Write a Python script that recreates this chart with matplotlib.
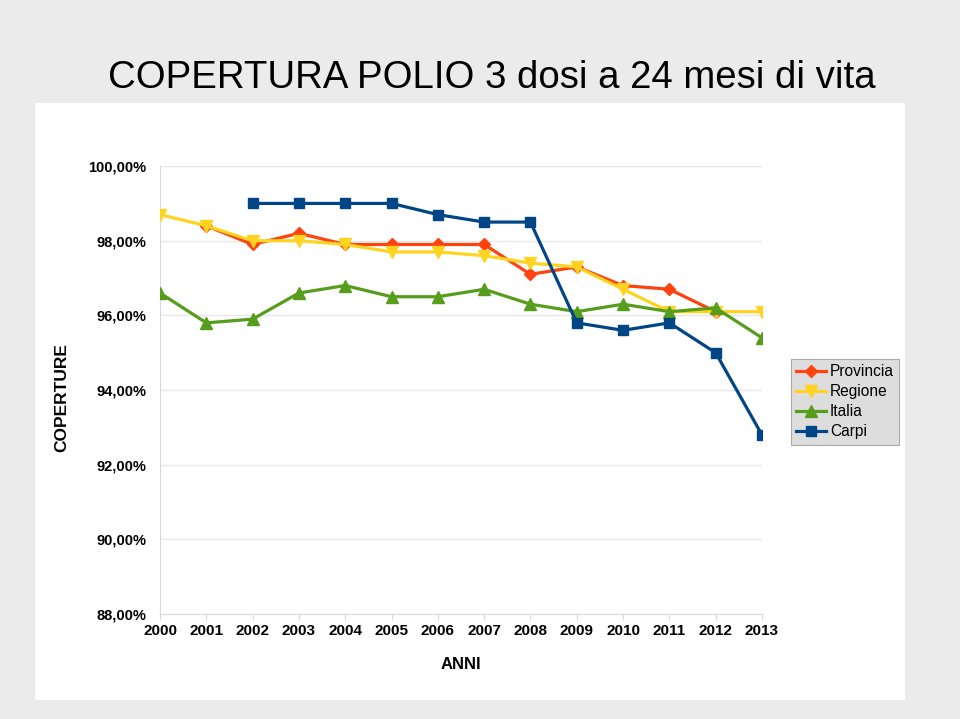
import matplotlib.pyplot as plt
from matplotlib.patches import Rectangle
from matplotlib.ticker import FuncFormatter
import numpy as np

plt.rcParams['font.family'] = ['Liberation Sans', 'DejaVu Sans']

anni = ['2000', '2001', '2002', '2003', '2004', '2005', '2006',
        '2007', '2008', '2009', '2010', '2011', '2012', '2013']

provincia = [np.nan, 98.4, 97.9, 98.2, 97.9, 97.9, 97.9, 97.9, 97.1, 97.3, 96.8, 96.7, 96.1, np.nan]
regione = [98.7, 98.4, 98.0, 98.0, 97.9, 97.7, 97.7, 97.6, 97.4, 97.3, 96.7, 96.1, 96.1, 96.1]
italia = [96.6, 95.8, 95.9, 96.6, 96.8, 96.5, 96.5, 96.7, 96.3, 96.1, 96.3, 96.1, 96.2, 95.4]
carpi = [np.nan, np.nan, 99.0, 99.0, 99.0, 99.0, 98.7, 98.5, 98.5, 95.8, 95.6, 95.8, 95.0, 92.8]

x = np.arange(len(anni))

fig = plt.figure(figsize=(9.6, 7.19), dpi=100, facecolor='#ebebeb')
fig.patches.append(Rectangle((0.0365, 0.0264), 0.906, 0.830, transform=fig.transFigure,
                             facecolor='white', edgecolor='none', zorder=-5))

fig.text(0.112, 0.878, 'COPERTURA POLIO 3 dosi a 24 mesi di vita', fontsize=27.6, color='black')

ax = fig.add_axes([0.1667, 0.146, 0.627, 0.623])
ax.set_zorder(2)
ax.set_facecolor('white')

ax.plot(x, provincia, color='#ff420e', marker='D', markersize=6, lw=2.3, label='Provincia', zorder=3)
ax.plot(x, regione, color='#ffd320', marker='v', markersize=8, lw=2.3, label='Regione', zorder=3)
ax.plot(x, italia, color='#579d1c', marker='^', markersize=8, lw=2.3, label='Italia', zorder=3)
ax.plot(x, carpi, color='#004586', marker='s', markersize=7, lw=2.3, label='Carpi', zorder=4)

ax.set_xlim(0, 13)
ax.set_ylim(88, 100)
ax.set_yticks(np.arange(88, 101, 2))
ax.yaxis.set_major_formatter(FuncFormatter(lambda v, p: f'{v:.2f}%'.replace('.', ',')))
ax.set_xticks(x)
ax.set_xticklabels(anni)
ax.grid(axis='y', color='#e8e8e8', lw=1)
for s in ['top', 'right']:
    ax.spines[s].set_visible(False)
for s in ['left', 'bottom']:
    ax.spines[s].set_color('#d9d9d9')
ax.tick_params(axis='y', length=0, pad=10, labelsize=10.5)
ax.tick_params(axis='x', length=4, color='#d9d9d9', pad=3, labelsize=11)
for lab in ax.get_xticklabels() + ax.get_yticklabels():
    lab.set_fontweight('bold')

ax.set_xlabel('ANNI', fontsize=12, fontweight='bold', labelpad=14)
fig.text(0.064, 0.447, 'COPERTURE', rotation=90, fontsize=12.5, fontweight='bold',
         ha='center', va='center')

leg = ax.legend(loc='upper left', bbox_to_anchor=(0.824, 0.501), bbox_transform=fig.transFigure,
                fancybox=False, facecolor='#dddddd', edgecolor='#aaaaaa', framealpha=1,
                fontsize=11.2, handlelength=1.9, handletextpad=0.25, labelspacing=0.32,
                borderpad=0.35, borderaxespad=0)
leg.get_frame().set_linewidth(0.8)

fig.savefig('out.png', dpi=100, facecolor=fig.get_facecolor())
